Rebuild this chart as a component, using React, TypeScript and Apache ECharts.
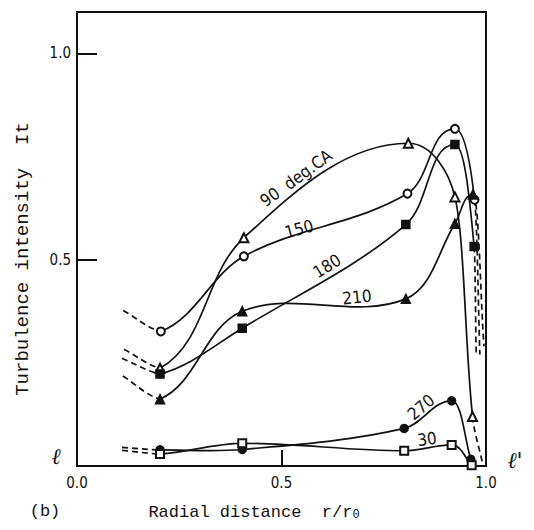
import React, { useEffect, useRef } from "react";
import * as echarts from "echarts";

// Turbulence intensity It against radial distance r/r0, one curve per crank angle
const ca90 = [[0.203, 0.237], [0.408, 0.553], [0.81, 0.782], [0.924, 0.652], [0.967, 0.12]];
const ca150 = [[0.205, 0.326], [0.408, 0.508], [0.808, 0.66], [0.924, 0.817], [0.972, 0.645]];
const ca180 = [[0.203, 0.223], [0.404, 0.334], [0.804, 0.585], [0.924, 0.779], [0.971, 0.532]];
const ca210 = [[0.203, 0.162], [0.404, 0.375], [0.804, 0.405], [0.924, 0.587], [0.968, 0.658]];
const ca270 = [[0.203, 0.039], [0.404, 0.04], [0.8, 0.091], [0.916, 0.158], [0.963, 0.016]];
const ca30 = [[0.203, 0.029], [0.404, 0.055], [0.8, 0.037], [0.916, 0.051], [0.965, 0.002]];

// Dashed extrapolations: towards the axis (left) and into the wall (right)
const left90 = [0.115, 0.283];
const left150 = [0.113, 0.377];
const left180 = [0.11, 0.261];
const left210 = [0.112, 0.218];
const left270 = [0.11, 0.045];
const left30 = [0.11, 0.038];
const right90 = [0.992, 0.005];
const right150 = [0.985, 0.27];
const right180 = [0.976, 0.27];
const right210 = [0.995, 0.29];

const xTickLabels = [0, 0.5, 1.0];
const yTickLabels = [0.5, 1.0];

const curves = [
  { name: "90", data: ca90, left: left90, right: right90, symbol: "emptyTriangle" },
  { name: "150", data: ca150, left: left150, right: right150, symbol: "emptyCircle" },
  { name: "180", data: ca180, left: left180, right: right180, symbol: "rect" },
  { name: "210", data: ca210, left: left210, right: right210, symbol: "triangle" },
  { name: "270", data: ca270, left: left270, right: null, symbol: "circle" },
  { name: "30", data: ca30, left: left30, right: null, symbol: "emptyRect" },
];

const INK = "#111";
const tickFont = "'Liberation Sans Narrow', 'DejaVu Sans Condensed', 'Liberation Sans', sans-serif";
const handFont = "'DejaVu Sans Condensed', 'Liberation Sans Narrow', sans-serif";
const monoFont = "'Liberation Mono', 'DejaVu Sans Mono', monospace";

// French-curve style spline: tangent follows the neighbours, flat at local extrema
const TENSION = 0.34;

function unit(dx: number, dy: number) {
  const len = Math.hypot(dx, dy) || 1;
  return [dx / len, dy / len];
}

// side: -1 = tangent used by the segment arriving at i, +1 = segment leaving i
function tangentAt(P: number[][], i: number, side: number, junction: number) {
  const n = P.length;
  if (i === junction) {
    // corner where the dashed extrapolation meets the measured curve:
    // each side bends half-way between its chord and the horizontal
    const j = side > 0 ? i + 1 : i - 1;
    const c = unit(P[j][0] - P[i][0], P[j][1] - P[i][1]);
    const s = side > 0 ? 1 : -1;
    const u = unit(c[0] * s + 1, c[1] * s);
    return u;
  }
  if (i === 0) return unit(P[1][0] - P[0][0], P[1][1] - P[0][1]);
  if (i === n - 1) return unit(P[n - 1][0] - P[n - 2][0], P[n - 1][1] - P[n - 2][1]);
  if ((P[i - 1][1] - P[i][1]) * (P[i + 1][1] - P[i][1]) > 0) return [1, 0];
  return unit(P[i + 1][0] - P[i - 1][0], P[i + 1][1] - P[i - 1][1]);
}

function controlOffset(t: number[], segLen: number, segDx: number) {
  let ox = t[0] * segLen * TENSION;
  let oy = t[1] * segLen * TENSION;
  const lim = Math.abs(segDx) * 0.55;
  if (Math.abs(ox) > lim && Math.abs(ox) > 0) {
    const s = lim / Math.abs(ox);
    ox *= s;
    oy *= s;
  }
  return [ox, oy];
}

export default function App() {
  const ref = useRef<HTMLDivElement>(null);

  useEffect(() => {
    if (!ref.current) return;
    const chart = echarts.init(ref.current, undefined, { renderer: "svg" });

    const series: any[] = [];
    curves.forEach((c) => {
      // [x, y, dashedFlag]
      const pts: number[][] = [];
      if (c.left) pts.push([c.left[0], c.left[1], 1]);
      c.data.forEach((p) => pts.push([p[0], p[1], 0]));
      if (c.right) pts.push([c.right[0], c.right[1], 1]);
      const junction = c.left ? 1 : -1;

      series.push({
        type: "custom",
        name: c.name + " curve",
        data: pts,
        encode: { x: 0, y: 1 },
        z: 2,
        silent: true,
        renderItem: (params: any, api: any) => {
          const i = params.dataIndex;
          if (i >= pts.length - 1) return null;
          const P = pts.map((p) => api.coord([p[0], p[1]]));
          const a = P[i];
          const b = P[i + 1];
          const L = Math.hypot(b[0] - a[0], b[1] - a[1]);
          const dxs = b[0] - a[0];
          const o1 = controlOffset(tangentAt(P, i, 1, junction), L, dxs);
          const o2 = controlOffset(tangentAt(P, i + 1, -1, junction), L, dxs);
          const dashed = pts[i][2] === 1 || pts[i + 1][2] === 1;
          return {
            type: "bezierCurve",
            shape: {
              x1: a[0],
              y1: a[1],
              x2: b[0],
              y2: b[1],
              cpx1: a[0] + o1[0],
              cpy1: a[1] + o1[1],
              cpx2: b[0] - o2[0],
              cpy2: b[1] - o2[1],
            },
            style: {
              fill: "none",
              stroke: INK,
              lineWidth: 1.7,
              lineDash: dashed ? [6, 4] : null,
            },
          };
        },
      });

      series.push({
        type: "scatter",
        name: c.name,
        data: c.data,
        symbol: c.symbol,
        symbolSize: c.symbol.toLowerCase().indexOf("triangle") >= 0 ? 9 : 8,
        itemStyle: { color: INK, borderColor: INK, borderWidth: 1.5, opacity: 1 },
        z: 4,
      });
    });

    // curve annotations, placed alongside their curves
    const labels = [
      { text: "90  deg.CA", x: 296, y: 178, r: 36 },
      { text: "150", x: 299, y: 229, r: 15 },
      { text: "180", x: 327, y: 266, r: 32 },
      { text: "210", x: 357, y: 297, r: 6 },
      { text: "270", x: 421, y: 407, r: 40 },
      { text: "30", x: 427, y: 439, r: 8 },
    ];

    chart.setOption({
      animation: false,
      backgroundColor: "#fff",
      grid: {
        left: 77,
        right: 48,
        top: 12,
        bottom: 64,
        show: true,
        borderColor: INK,
        borderWidth: 2,
        backgroundColor: "transparent",
      },
      xAxis: {
        type: "value",
        min: 0,
        max: 1,
        interval: 0.5,
        axisLine: { show: false },
        splitLine: { show: false },
        axisTick: {
          show: true,
          inside: true,
          length: 16,
          customValues: [0.5],
          lineStyle: { color: INK, width: 2 },
        },
        axisLabel: {
          customValues: xTickLabels,
          formatter: (v: number) => v.toFixed(1),
          color: INK,
          fontFamily: tickFont,
          fontSize: 15,
          margin: 9,
        },
      },
      yAxis: {
        type: "value",
        min: 0,
        max: 1.1,
        interval: 0.5,
        axisLine: { show: false },
        splitLine: { show: false },
        axisTick: {
          show: true,
          inside: true,
          length: 20,
          customValues: yTickLabels,
          lineStyle: { color: INK, width: 2 },
        },
        axisLabel: {
          customValues: yTickLabels,
          formatter: (v: number) => (v === 0.5 || v === 1 ? v.toFixed(1) : ""),
          color: INK,
          fontFamily: tickFont,
          fontSize: 15,
          margin: 6,
        },
      },
      series,
      graphic: [
        ...labels.map((l) => ({
          type: "text",
          x: l.x,
          y: l.y,
          rotation: (l.r * Math.PI) / 180,
          style: {
            text: l.text,
            fill: INK,
            font: `17px ${handFont}`,
            align: "center",
            verticalAlign: "middle",
          },
          z: 10,
        })),
        {
          type: "text",
          x: 23,
          y: 259,
          rotation: Math.PI / 2,
          style: {
            text: "Turbulence intensity  It",
            fill: INK,
            font: `19px ${monoFont}`,
            align: "center",
            verticalAlign: "middle",
          },
        },
        {
          type: "text",
          x: 254,
          y: 512,
          style: {
            text: "Radial distance  r/r{sub|0}",
            fill: INK,
            font: `17px ${monoFont}`,
            align: "center",
            verticalAlign: "middle",
            rich: {
              sub: { font: `12px ${monoFont}`, fill: INK, padding: [6, 0, 0, 0] },
            },
          },
        },
        {
          type: "text",
          x: 45,
          y: 511,
          style: {
            text: "(b)",
            fill: INK,
            font: `17px ${monoFont}`,
            align: "center",
            verticalAlign: "middle",
          },
        },
        {
          type: "text",
          x: 56,
          y: 456,
          style: {
            text: "ℓ",
            fill: INK,
            font: `italic 22px 'DejaVu Serif', serif`,
            align: "center",
            verticalAlign: "middle",
          },
        },
        {
          type: "text",
          x: 515,
          y: 460,
          style: {
            text: "ℓ'",
            fill: INK,
            font: `italic 22px 'DejaVu Serif', serif`,
            align: "center",
            verticalAlign: "middle",
          },
        },
      ],
    });

    return () => chart.dispose();
  }, []);

  return (
    <div
      ref={ref}
      style={{ position: "fixed", left: 0, top: 0, width: 534, height: 530, background: "#fff" }}
    />
  );
}
